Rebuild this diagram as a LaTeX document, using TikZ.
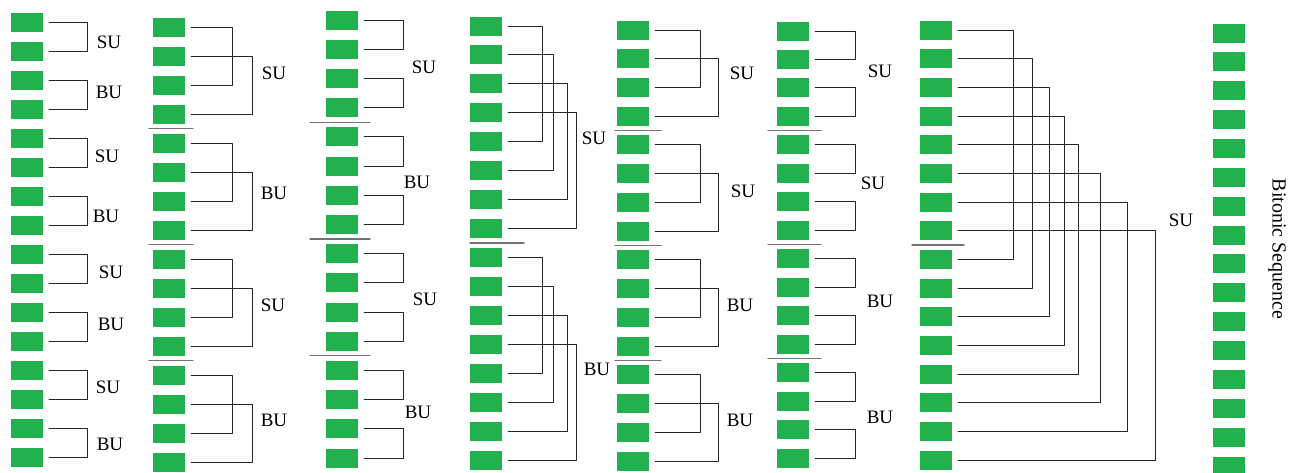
\documentclass[tikz,border=0pt]{standalone}
\usepackage{fontspec}
\setmainfont{Liberation Serif}
\usetikzlibrary{calc}
\definecolor{ccqqgg}{rgb}{0.13333,0.69412,0.29804}
\newcommand{\pairwire}[3]{\draw[wire] ([xshift=6]#1.east) -- ([xshift=#3]#1.east) |- ([xshift=6]#2.east);}
\newcommand{\splitbar}[4]{\draw[bar] ($(#1.south)!0.5!(#2.north)$) ++(#3,0) -- ++(#4,0);}

\begin{document}
\begin{tikzpicture}[line cap=round,line join=round,x=1pt,y=-1pt,
	cell/.style={fill=ccqqgg,minimum width=32pt,minimum height=19pt,inner sep=0pt},
	wire/.style={draw=black!85,line width=1pt},
	bar/.style={draw=black!55,line width=1.2pt},
	tag/.style={font=\fontsize{19}{19}\selectfont}]
	\useasboundingbox (0,0) rectangle (1291,472);
	% columns of cells
	\foreach \k/\xl/\ya/\yb in {1/11/22/457,2/153/27/462,3/326/20/458,4/470/26/460,5/617/30/461,6/777/31/458,7/920/30/460,8/1213/33/466}
		\foreach \i in {0,...,15}
			\node[cell] (c\k-\i) at ({\xl+16},{\ya+\i*(\yb-\ya)/15}) {};
	% stride 1
	\foreach \g in {0,...,7}{
		\pgfmathtruncatemacro\p{2*\g}\pgfmathtruncatemacro\q{2*\g+1}
		\pairwire{c1-\p}{c1-\q}{44}
		\pairwire{c3-\p}{c3-\q}{45}
		\pairwire{c6-\p}{c6-\q}{46}}
	% stride 2
	\foreach \g in {0,...,3}{
		\pgfmathtruncatemacro\p{4*\g}\pgfmathtruncatemacro\q{4*\g+1}
		\pgfmathtruncatemacro\r{4*\g+2}\pgfmathtruncatemacro\s{4*\g+3}
		\pairwire{c2-\p}{c2-\r}{47}
		\pairwire{c2-\q}{c2-\s}{67}
		\pairwire{c5-\p}{c5-\r}{51}
		\pairwire{c5-\q}{c5-\s}{69}}
	% stride 4
	\foreach \g in {0,1}
		\foreach \j/\o in {0/40,1/51,2/65,3/74}{
			\pgfmathtruncatemacro\p{8*\g+\j}\pgfmathtruncatemacro\q{8*\g+\j+4}
			\pairwire{c4-\p}{c4-\q}{\o}}
	% stride 8
	\foreach \j/\o in {0/61,1/80,2/97,3/112,4/126,5/148,6/175,7/203}{
		\pgfmathtruncatemacro\q{\j+8}
		\pairwire{c7-\j}{c7-\q}{\o}}
	% separators
	\foreach \p in {3,7,11}{
		\pgfmathtruncatemacro\q{\p+1}
		\splitbar{c2-\p}{c2-\q}{-20}{44}
		\splitbar{c3-\p}{c3-\q}{-32}{60}
		\splitbar{c5-\p}{c5-\q}{-18}{46}
		\splitbar{c6-\p}{c6-\q}{-25}{53}}
	\splitbar{c4-7}{c4-8}{-16}{54}
	\splitbar{c7-7}{c7-8}{-24}{52}
	% labels
	\foreach \n/\x/\y/\t in {a/109/42/SU,b/109/92/BU,c/107/156/SU,d/106/216/BU,e/111/272/SU,f/111/324/BU,g/108/387/SU,h/110/444/BU,
		i/274/73/SU,j/274/193/BU,k/273/305/SU,l/274/420/BU,
		m/424/67/SU,n/417/182/BU,o/425/299/SU,p/418/412/BU,
		q/594/138/SU,r/597/369/BU,
		s/742/73/SU,t/743/191/SU,u/740/305/BU,v/740/420/BU,
		w/880/71/SU,x/873/183/SU,y/880/301/BU,z/880/417/BU,
		last/1181/220/SU}
		\node[tag] (tag-\n) at (\x,\y) {\t};
	\node[tag,font=\fontsize{20}{20}\selectfont,rotate=-90] (seq) at (1277,249) {Bitonic Sequence};
\end{tikzpicture}
\end{document}
